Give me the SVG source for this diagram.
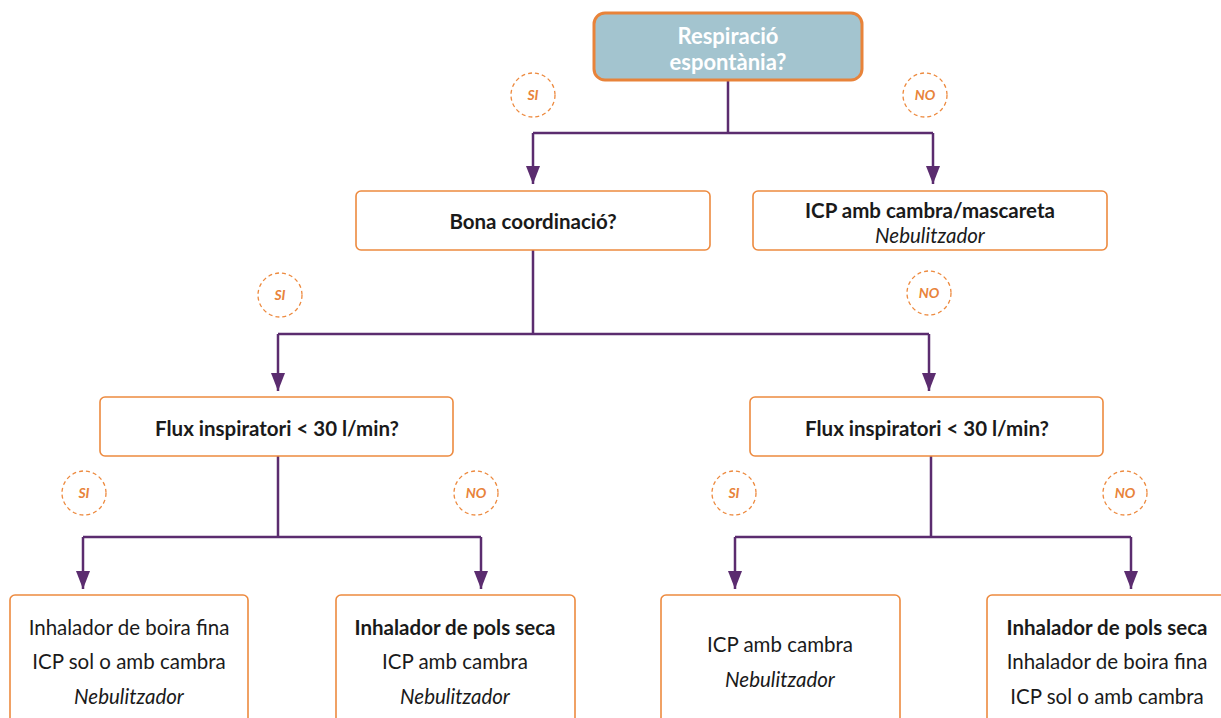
<svg xmlns="http://www.w3.org/2000/svg" width="1221" height="718" viewBox="0 0 1221 718">
<defs>
<marker id="arr" viewBox="0 0 18 14" refX="18" refY="7" markerWidth="18" markerHeight="14" markerUnits="userSpaceOnUse" orient="auto">
<path d="M0,0 L18,7 L0,14 Z" fill="#5b2c6f"/>
</marker>
<style>
.box{fill:#fff;stroke:#ed8a3f;stroke-width:1.6}
.root{fill:#a3c4cf;stroke:#e8833a;stroke-width:3}
.t{font-family:Lato,"Open Sans",sans-serif;font-size:20.5px;fill:#1a1a1a;text-anchor:middle}
.b{font-weight:bold}
.i{font-style:italic}
.rt{font-family:Lato,"Open Sans",sans-serif;font-size:22px;font-weight:bold;fill:#fff;text-anchor:middle}
.c{fill:#fff;stroke:#ed8a3f;stroke-width:1.3;stroke-dasharray:4 3}
.ct{font-family:Lato,"Open Sans",sans-serif;font-size:14px;font-weight:bold;font-style:italic;fill:#e8833a;text-anchor:middle}
.ln{fill:none;stroke:#5b2c6f;stroke-width:2.5}
.ar{fill:none;stroke:#5b2c6f;stroke-width:2.5}
</style>
</defs>
<rect width="1221" height="718" fill="#fff"/>
<g id="connectors">
<path class="ln" d="M728,80 V133 M533,133 H933 M533,250 V334 M278,334 H929 M278,456 V537 M83,537 H481 M931,456 V537 M735,537 H1131"/>
<path class="ar" d="M533,133 V184" marker-end="url(#arr)"/>
<path class="ar" d="M933,133 V184" marker-end="url(#arr)"/>
<path class="ar" d="M278,334 V391" marker-end="url(#arr)"/>
<path class="ar" d="M929,334 V391" marker-end="url(#arr)"/>
<path class="ar" d="M83,537 V589" marker-end="url(#arr)"/>
<path class="ar" d="M481,537 V589" marker-end="url(#arr)"/>
<path class="ar" d="M735,537 V589" marker-end="url(#arr)"/>
<path class="ar" d="M1131,537 V589" marker-end="url(#arr)"/>
</g>
<g id="root">
<rect class="root" x="594" y="13" width="268" height="67" rx="11"/>
<text class="rt" x="728" y="44">Respiració</text>
<text class="rt" x="728" y="70">espontània?</text>
</g>
<g id="label-si-1"><circle class="c" cx="533" cy="95" r="22"/><text class="ct" x="533" y="100">SI</text></g>
<g id="label-no-1"><circle class="c" cx="925" cy="95" r="22"/><text class="ct" x="925" y="100">NO</text></g>
<g id="bona">
<rect class="box" x="356" y="191" width="354" height="59" rx="5"/>
<text class="t b" x="533" y="229">Bona coordinació?</text>
</g>
<g id="icp-mascareta">
<rect class="box" x="753" y="191" width="354" height="59" rx="5"/>
<text class="t b" x="930" y="218">ICP amb cambra/mascareta</text>
<text class="t i" x="930" y="243">Nebulitzador</text>
</g>
<g id="label-si-2"><circle class="c" cx="280" cy="295" r="22"/><text class="ct" x="280" y="300">SI</text></g>
<g id="label-no-2"><circle class="c" cx="929" cy="293" r="22"/><text class="ct" x="929" y="298">NO</text></g>
<g id="flux-left">
<rect class="box" x="100" y="397" width="353" height="59" rx="5"/>
<text class="t b" x="277" y="436">Flux inspiratori &lt; 30 l/min?</text>
</g>
<g id="flux-right">
<rect class="box" x="750" y="397" width="353" height="59" rx="5"/>
<text class="t b" x="927" y="436">Flux inspiratori &lt; 30 l/min?</text>
</g>
<g id="label-si-3"><circle class="c" cx="84" cy="493" r="22"/><text class="ct" x="84" y="498">SI</text></g>
<g id="label-no-3"><circle class="c" cx="476" cy="493" r="22"/><text class="ct" x="476" y="498">NO</text></g>
<g id="label-si-4"><circle class="c" cx="734" cy="493" r="22"/><text class="ct" x="734" y="498">SI</text></g>
<g id="label-no-4"><circle class="c" cx="1125" cy="493" r="22"/><text class="ct" x="1125" y="498">NO</text></g>
<g id="out-1">
<rect class="box" x="10" y="595" width="238" height="140" rx="5"/>
<text class="t" x="129" y="635">Inhalador de boira fina</text>
<text class="t" x="129" y="669">ICP sol o amb cambra</text>
<text class="t i" x="129" y="704">Nebulitzador</text>
</g>
<g id="out-2">
<rect class="box" x="336" y="595" width="239" height="140" rx="5"/>
<text class="t b" x="455" y="635">Inhalador de pols seca</text>
<text class="t" x="455" y="669">ICP amb cambra</text>
<text class="t i" x="455" y="704">Nebulitzador</text>
</g>
<g id="out-3">
<rect class="box" x="661" y="595" width="239" height="140" rx="5"/>
<text class="t" x="780" y="652">ICP amb cambra</text>
<text class="t i" x="780" y="687">Nebulitzador</text>
</g>
<g id="out-4">
<rect class="box" x="987" y="595" width="250" height="140" rx="5"/>
<text class="t b" x="1107" y="635">Inhalador de pols seca</text>
<text class="t" x="1107" y="669">Inhalador de boira fina</text>
<text class="t" x="1107" y="704">ICP sol o amb cambra</text>
</g>
</svg>
